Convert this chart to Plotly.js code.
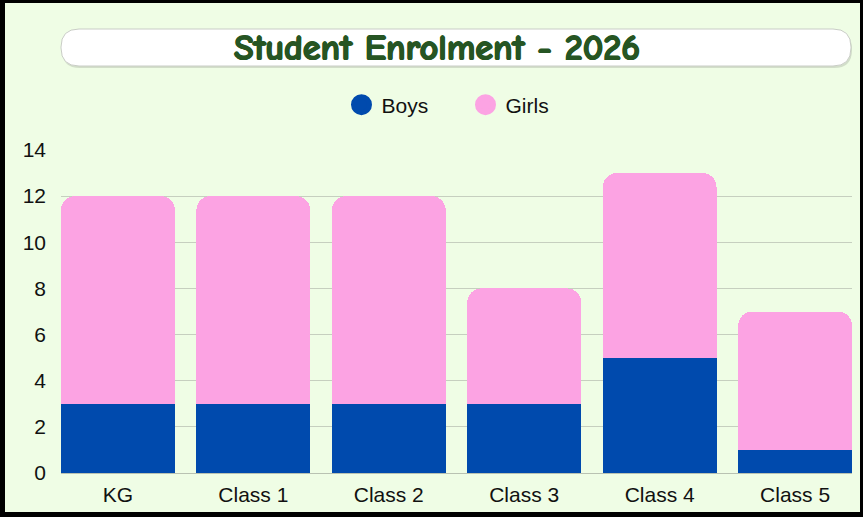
<!DOCTYPE html>
<html><head><meta charset="utf-8">
<script src="https://cdn.plot.ly/plotly-3.0.1.min.js"></script>
<style>
body{margin:0;padding:0;background:#effde5;}
#wrap{position:relative;width:863px;height:517px;}
#chart{width:863px;height:517px;}
#frame{position:absolute;left:0;top:0;width:863px;height:517px;box-sizing:border-box;border-style:solid;border-color:#000;border-width:3px 3px 5px 5px;pointer-events:none;}
</style></head>
<body>
<div id="wrap"><div id="chart"></div><div id="frame"></div></div>
<script>
const categories = ["KG", "Class 1", "Class 2", "Class 3", "Class 4", "Class 5"];
const boys = [3, 3, 3, 3, 5, 1];
const girls = [9, 9, 9, 5, 8, 6];
const yTicks = [0, 2, 4, 6, 8, 10, 12, 14];
const titleText = "Student Enrolment - 2026";

const boyColor = "#004aad";
const girlColor = "#fca3e3";
const titleColor = "#265523";
const txtFont = '"Liberation Sans Narrow", "Liberation Sans", Arial, sans-serif';

const W = 863, H = 517;
const mL = 61, mR = 11, mT = 150, mB = 44;
const pw = W - mL - mR, ph = H - mT - mB;
function px(x){ return (x - mL) / pw; }
function py(y){ return (H - mB - y) / ph; }

function roundRect(x0, y0, x1, y1, r, dx, dy){
  dx = dx || 0; dy = dy || 0;
  x0 += dx; x1 += dx; y0 += dy; y1 += dy;
  return [
    `M ${px(x0 + r)} ${py(y0)}`,
    `L ${px(x1 - r)} ${py(y0)}`,
    `Q ${px(x1)} ${py(y0)} ${px(x1)} ${py(y0 + r)}`,
    `L ${px(x1)} ${py(y1 - r)}`,
    `Q ${px(x1)} ${py(y1)} ${px(x1 - r)} ${py(y1)}`,
    `L ${px(x0 + r)} ${py(y1)}`,
    `Q ${px(x0)} ${py(y1)} ${px(x0)} ${py(y1 - r)}`,
    `L ${px(x0)} ${py(y0 + r)}`,
    `Q ${px(x0)} ${py(y0)} ${px(x0 + r)} ${py(y0)}`,
    'Z'
  ].join(' ');
}

const data = [
  {type: 'bar', x: categories, y: boys, name: 'Boys', marker: {color: boyColor}, showlegend: false},
  {type: 'bar', x: categories, y: girls, name: 'Girls', marker: {color: girlColor}, showlegend: false},
  {type: 'scatter', mode: 'markers', x: [null], y: [null], name: 'Boys', marker: {color: boyColor, size: 23, symbol: 'circle', line: {color: boyColor, width: 5}}},
  {type: 'scatter', mode: 'markers', x: [null], y: [null], name: 'Girls', marker: {color: girlColor, size: 23, symbol: 'circle', line: {color: girlColor, width: 5}}}
];

const sh = `0.8px 0 0 ${titleColor}, -0.8px 0 0 ${titleColor}, 0 0.8px 0 ${titleColor}, 0 -0.8px 0 ${titleColor}`;

const layout = {
  width: W, height: H,
  margin: {l: mL, r: mR, t: mT, b: mB, pad: 0},
  paper_bgcolor: '#effde5',
  plot_bgcolor: '#effde5',
  barmode: 'stack',
  bargap: 0.16,
  barcornerradius: 14,
  title: {
    text: '<b>' + titleText + '</b>',
    font: {family: '"Comic Sans MS", "Comic Neue", "DejaVu Sans", sans-serif', size: 36, weight: 700, color: titleColor, shadow: sh},
    x: px(437), xanchor: 'center', xref: 'paper',
    y: 1 - 47 / H, yanchor: 'middle', yref: 'container'
  },
  showlegend: true,
  legend: {
    orientation: 'h', x: 0.5 + 9 / pw, xanchor: 'center', xref: 'paper',
    y: py(105), yanchor: 'middle',
    font: {family: txtFont, size: 21, color: '#111'},
    bgcolor: 'rgba(0,0,0,0)', itemwidth: 30, traceorder: 'normal',
    entrywidth: 79, entrywidthmode: 'pixels'
  },
  xaxis: {
    type: 'category',
    range: [-0.42, 5.42],
    showgrid: false,
    showline: true, linecolor: '#b9c2b2', linewidth: 1,
    ticks: '',
    ticklabelstandoff: 3,
    tickfont: {family: txtFont, size: 21, color: '#111'},
    fixedrange: true
  },
  yaxis: {
    range: [0, 14],
    tickvals: yTicks,
    ticktext: yTicks.map(String),
    showgrid: true, gridcolor: '#c6cfbf', gridwidth: 1,
    zeroline: false,
    showline: false,
    ticks: '',
    ticklabelstandoff: 14,
    tickfont: {family: txtFont, size: 21, color: '#111'},
    fixedrange: true
  },
  shapes: [
    {type: 'path', xref: 'paper', yref: 'paper', path: roundRect(61, 29, 851, 66, 18, 1, 2), fillcolor: 'rgba(0,0,0,0.12)', line: {width: 0}, layer: 'below'},
    {type: 'path', xref: 'paper', yref: 'paper', path: roundRect(61, 29, 851, 66, 18), fillcolor: '#ffffff', line: {color: '#c9cdc6', width: 1}, layer: 'below'}
  ],
  font: {family: txtFont}
};

Plotly.newPlot('chart', data, layout, {displayModeBar: false, staticPlot: true});
</script>
</body></html>
